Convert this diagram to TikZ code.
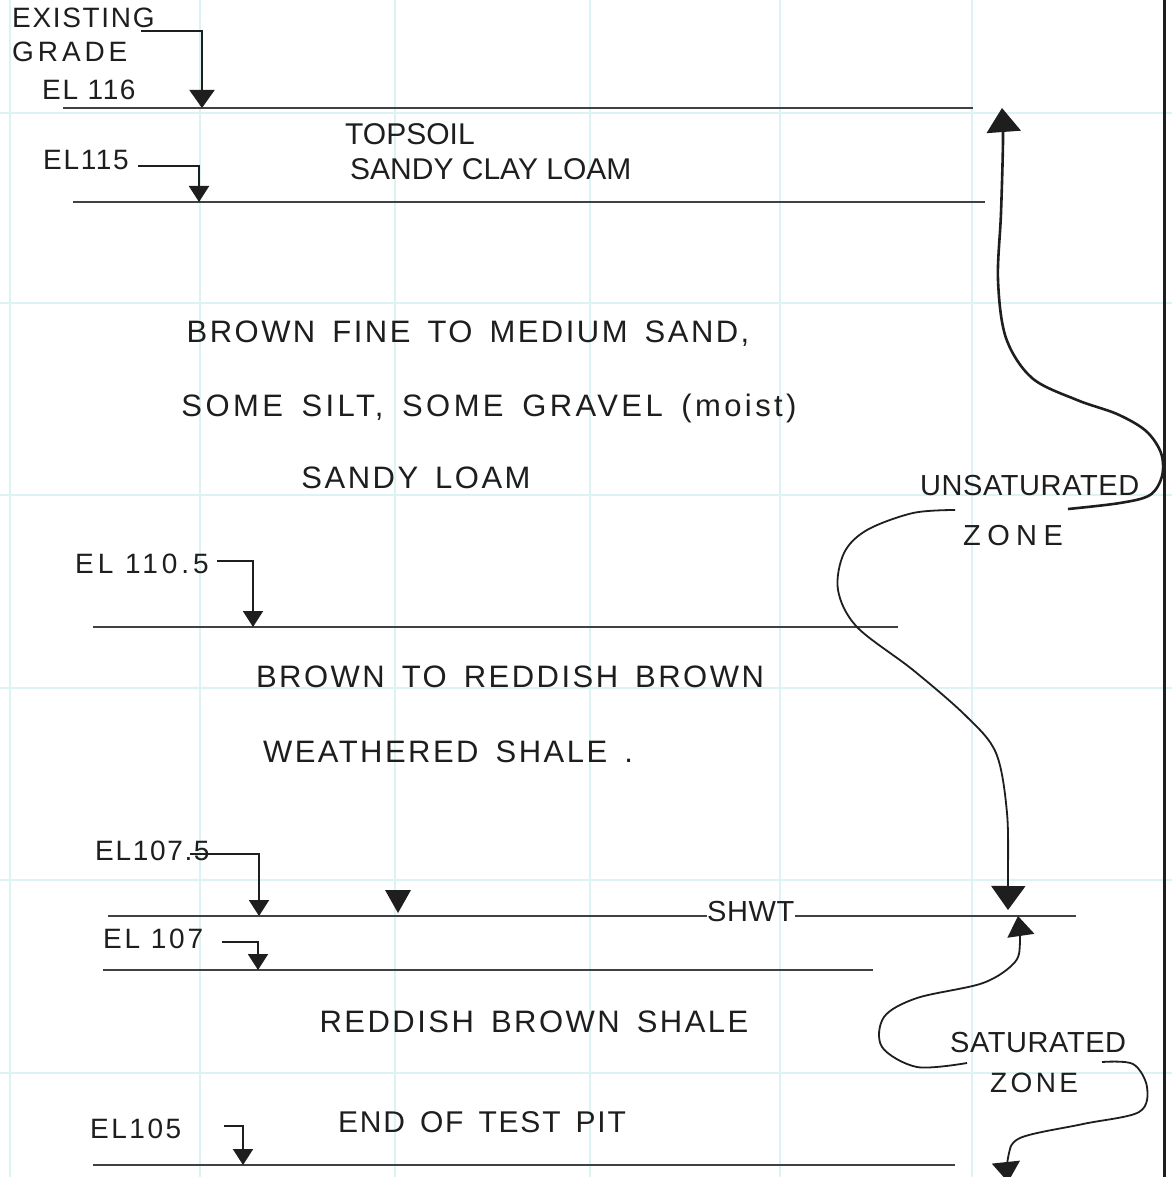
\documentclass[tikz,border=0pt]{standalone}
\usepackage{fontspec}
\setmainfont{Liberation Sans}
\usetikzlibrary{arrows.meta}
\definecolor{gridcyan}{RGB}{220,243,243}
\definecolor{ink}{RGB}{30,30,30}
\definecolor{pencil}{RGB}{65,65,65}
\newcommand\elfont{\fontsize{28}{30}\selectfont\addfontfeatures{LetterSpace=6}}
\newcommand\descfont{\fontsize{31}{34}\selectfont\addfontfeatures{LetterSpace=8}\spaceskip=0.55em\relax}
\newcommand\tagfont{\fontsize{29}{32}\selectfont\addfontfeatures{LetterSpace=2}}
\newcommand\soilfont{\fontsize{30}{32}\selectfont}

\begin{document}
\begin{tikzpicture}[x=1pt,y=-1pt,
  every node/.style={inner sep=0pt, text=ink},
  elabel/.style={anchor=base west, font=\elfont},
  desc/.style={anchor=base, font=\descfont},
  tag/.style={anchor=base west, font=\tagfont},
  soiltag/.style={anchor=base west, font=\soilfont},
  gridline/.style={draw=gridcyan, line width=2.2pt},
  layer/.style={draw=pencil, line width=1.6pt},
  leader/.style={draw=ink, line width=2pt, -{Triangle[length=16pt,width=20pt]}},
  bigleader/.style={draw=ink, line width=2pt, -{Triangle[length=18pt,width=25pt]}},
  flow/.style={draw=ink, line width=2.2pt},
]
\useasboundingbox (0,0) rectangle (1172,1177);
\clip (0,0) rectangle (1172,1177);
\fill[white] (0,0) rectangle (1172,1177);

% grid paper
\foreach \gx in {10,200,395,590,780,972}
  \draw[gridline] (\gx,0) -- (\gx,1177);
\foreach \gy in {113,303,495,688,880,1073}
  \draw[gridline] (0,\gy) -- (1172,\gy);

% sheet edge
\draw[ink, line width=3pt] (1164,0) -- (1164,1177);

% layer boundaries
\coordinate (l116a) at (63,108);   \coordinate (l116b) at (973,108);
\coordinate (l115a) at (73,202);   \coordinate (l115b) at (985,202);
\coordinate (l110a) at (93,627);   \coordinate (l110b) at (898,627);
\coordinate (shwtL) at (108,916);  \coordinate (shwtR) at (1076,916);
\coordinate (l107a) at (103,970);  \coordinate (l107b) at (873,970);
\coordinate (l105a) at (93,1165);  \coordinate (l105b) at (955,1165);
\draw[layer] (l116a) -- (l116b);
\draw[layer] (l115a) -- (l115b);
\draw[layer] (l110a) -- (l110b);
\draw[layer] (l107a) -- (l107b);
\draw[layer] (l105a) -- (l105b);

% elevation labels
\node[elabel] (exist) at (12,28) {EXISTING};
\node[elabel, font={\fontsize{28}{30}\selectfont\addfontfeatures{LetterSpace=14}}] (grade) at (12,62) {GRADE};
\node[elabel] (el116) at (42,100) {EL 116};
\node[elabel] (el115) at (43,170) {EL115};
\node[elabel, font={\fontsize{28}{30}\selectfont\addfontfeatures{LetterSpace=14}}] (el1105) at (75,573) {EL 110.5};
\node[elabel] (el1075) at (95,860) {EL107.5};
\node[elabel, font={\fontsize{28}{30}\selectfont\addfontfeatures{LetterSpace=10}}] (el107) at (103,948) {EL 107};
\node[elabel, font={\fontsize{28}{30}\selectfont\addfontfeatures{LetterSpace=9}}] (el105) at (90,1138) {EL105};

% leaders from labels down to the boundaries
\coordinate (s116) at (141,31);   \coordinate (t116) at (202,108);
\coordinate (s115) at (138,166);  \coordinate (t115) at (199,202);
\coordinate (s110) at (217,561);  \coordinate (t110) at (253,627);
\coordinate (s1075) at (190,854); \coordinate (t1075) at (259,916);
\coordinate (s107) at (222,942);  \coordinate (t107) at (258,970);
\coordinate (s105) at (224,1126); \coordinate (t105) at (243,1165);
\draw[bigleader] (s116) -| (t116);
\draw[leader] (s115) -| (t115);
\draw[leader] (s110) -| (t110);
\draw[leader] (s1075) -| (t1075);
\draw[leader] (s107) -| (t107);
\draw[leader] (s105) -| (t105);

% soil descriptions
\node[soiltag] (topsoil) at (345,145) {TOPSOIL};
\node[soiltag] (scl) at (350,180) {SANDY CLAY LOAM};
\node[desc] (sand1) at (468,342) {BROWN FINE TO MEDIUM SAND,};
\node[desc, font={\fontsize{31}{34}\selectfont\addfontfeatures{LetterSpace=11}\spaceskip=0.6em\relax}] (sand2) at (489,416) {SOME SILT, SOME GRAVEL (moist)};
\node[desc] (sand3) at (416,488) {SANDY LOAM};
\node[desc] (shale1) at (510,687) {BROWN TO REDDISH BROWN};
\node[desc] (shale2) at (448,762) {WEATHERED SHALE .};
\node[desc] (shale3) at (534,1032) {REDDISH BROWN SHALE};
\node[desc, font={\fontsize{30}{33}\selectfont\addfontfeatures{LetterSpace=6}\spaceskip=0.5em\relax}] (endpit) at (482,1132) {END OF TEST PIT};

% seasonal high water table
\node[tag] (shwt) at (707,921) {SHWT};
\draw[layer] (shwtL) -- (shwtL -| shwt.west);
\draw[layer] (shwt.east |- shwtR) -- (shwtR);
\coordinate (wt) at (398,913);
\fill[ink] (wt) -- ++(-13,-23) -- ++(26,0) -- cycle;

% zone labels
\node[tag] (unsat) at (920,495) {UNSATURATED};
\node[tag, font={\fontsize{29}{32}\selectfont\addfontfeatures{LetterSpace=22}}] (zone1) at (963,545) {ZONE};
\node[tag] (sat) at (950,1052) {SATURATED};
\node[tag, font={\fontsize{28}{30}\selectfont\addfontfeatures{LetterSpace=12}}] (zone2) at (990,1092) {ZONE};

% unsaturated zone: up to grade and down to the water table
\coordinate (u0) at (1068,509);
\coordinate (u1) at (955,510);
\draw[flow, line width=2.6pt, -{Triangle[length=24pt,width=34pt]}]
  plot[smooth, tension=0.55] coordinates {(u0) (1120,503) (1150,495) (1162,476)
  (1161,453) (1146,431) (1117,414) (1077,400) (1032,378) (1006,338)
  (998,280) (1001,213) (1003,140) (1002,108)};
\draw[flow, line width=1.8pt, -{Triangle[length=24pt,width=34pt]}]
  plot[smooth, tension=0.55] coordinates {(u1) (913,513) (867,530) (844,553)
  (838,590) (857,627) (913,670) (966,716) (996,753) (1007,813)
  (1008,880) (1008,910)};

% saturated zone: up to the water table and down below the pit
\coordinate (z0) at (967,1063);
\coordinate (z1) at (1102,1062);
\draw[flow, line width=1.8pt, -{Triangle[length=20pt,width=27pt]}]
  plot[smooth, tension=0.55] coordinates {(z0) (917,1067) (882,1047) (884,1017)
  (917,998) (983,983) (1015,962) (1020,940) (1018,916)};
\draw[flow, line width=1.8pt, -{Triangle[length=20pt,width=28pt]}]
  plot[smooth, tension=0.55] coordinates {(z1) (1133,1064) (1147,1087)
  (1139,1112) (1083,1124) (1020,1138) (1008,1158) (1008,1182)};
\end{tikzpicture}
\end{document}
